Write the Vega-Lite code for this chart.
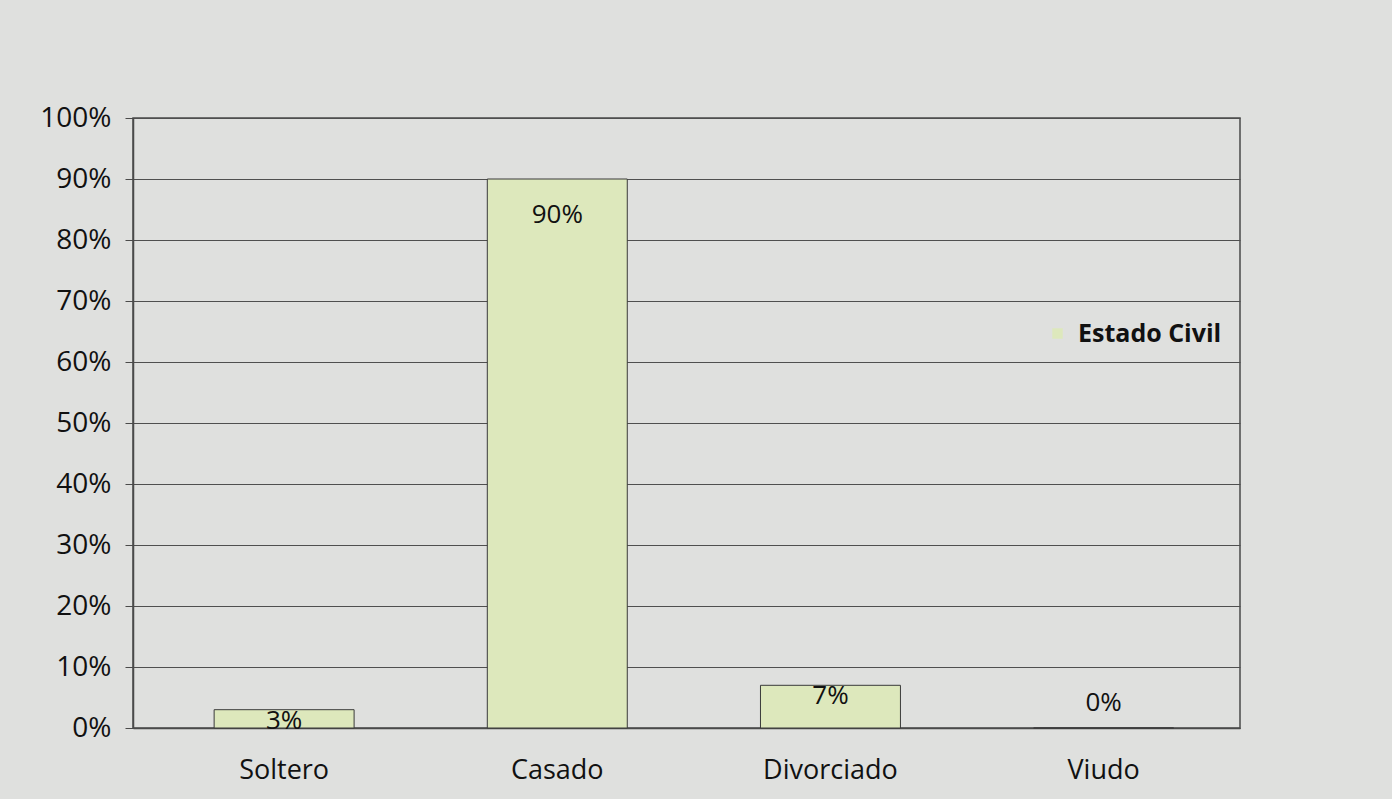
{
  "$schema": "https://vega.github.io/schema/vega-lite/v6.json",
  "width": 1107,
  "height": 610,
  "autosize": "none",
  "padding": {"left": 133, "top": 118, "right": 152, "bottom": 71},
  "background": "#dfe0de",
  "config": {
    "font": "Open Sans",
    "view": {"stroke": "#4a4a4a", "strokeWidth": 1.5}
  },
  "data": {
    "values": [
      {"estado": "Soltero", "value": 0.03},
      {"estado": "Casado", "value": 0.90},
      {"estado": "Divorciado", "value": 0.07},
      {"estado": "Viudo", "value": 0.0}
    ]
  },
  "encoding": {
    "x": {
      "field": "estado",
      "type": "nominal",
      "sort": null,
      "scale": {"paddingInner": 0.4876, "paddingOuter": 0.27, "align": 0.55},
      "axis": {
        "title": null,
        "labelAngle": 0,
        "labelFontSize": 27,
        "labelColor": "#111111",
        "labelPadding": 42,
        "labelBaseline": "middle",
        "ticks": false,
        "domainColor": "#4a4a4a",
        "domainWidth": 1.5,
        "grid": false
      }
    },
    "y": {
      "field": "value",
      "type": "quantitative",
      "scale": {"domain": [0, 1]},
      "axis": {
        "title": null,
        "format": ".0%",
        "values": [0, 0.1, 0.2, 0.3, 0.4, 0.5, 0.6, 0.7, 0.8, 0.9, 1],
        "labelFontSize": 28,
        "labelColor": "#111111",
        "labelPadding": 14,
        "tickSize": 8,
        "tickColor": "#4a4a4a",
        "domainColor": "#4a4a4a",
        "domainWidth": 1.5,
        "grid": true,
        "gridColor": "#4f4f4f",
        "gridWidth": 1
      }
    }
  },
  "layer": [
    {
      "mark": {"type": "bar", "stroke": "#3a3a3a", "strokeWidth": 1, "fillOpacity": 1},
      "encoding": {
        "color": {
          "datum": "Estado Civil",
          "scale": {"range": ["#dde8bc"]},
          "legend": {
            "title": null,
            "orient": "none",
            "legendX": 912,
            "legendY": 203,
            "symbolType": "square",
            "symbolSize": 110,
            "symbolStrokeWidth": 0,
            "labelFontSize": 25,
            "labelFontWeight": "bold",
            "labelColor": "#111111",
            "labelOffset": 8
          }
        }
      }
    },
    {
      "transform": [{"filter": "datum.value >= 0.5"}],
      "mark": {"type": "text", "baseline": "middle", "dy": 36, "fontSize": 26, "color": "#111111"},
      "encoding": {"text": {"field": "value", "type": "quantitative", "format": ".0%"}}
    },
    {
      "transform": [{"filter": "datum.value > 0 && datum.value < 0.5"}],
      "mark": {"type": "text", "baseline": "middle", "dy": 11, "fontSize": 26, "color": "#111111"},
      "encoding": {"text": {"field": "value", "type": "quantitative", "format": ".0%"}}
    },
    {
      "transform": [{"filter": "datum.value == 0"}],
      "mark": {"type": "text", "baseline": "middle", "dy": -25, "fontSize": 26, "color": "#111111"},
      "encoding": {"text": {"field": "value", "type": "quantitative", "format": ".0%"}}
    }
  ]
}
